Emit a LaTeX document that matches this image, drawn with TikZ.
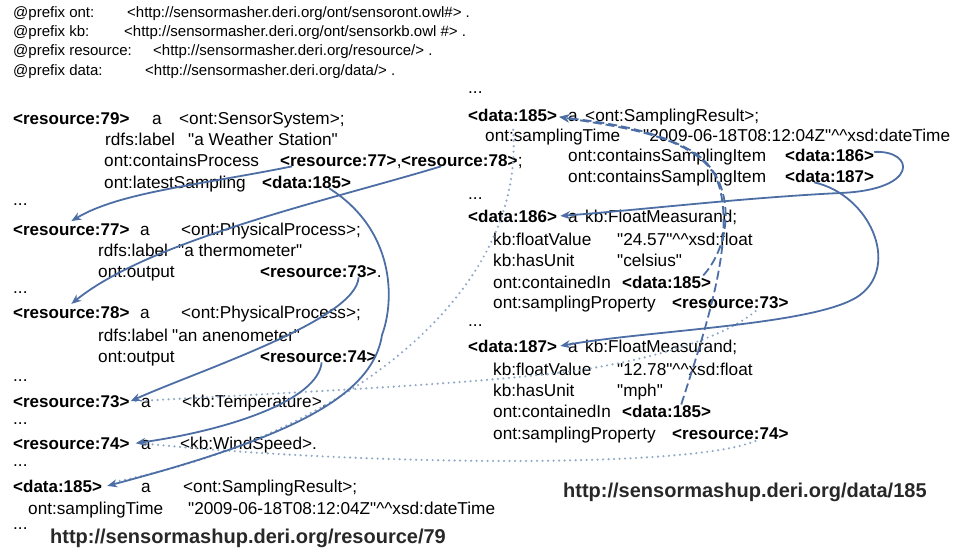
\documentclass[tikz,border=0pt]{standalone}
\usepackage{fontspec}
\setmainfont{Liberation Sans}[Ligatures=TeXOff]
\usetikzlibrary{arrows.meta}
\definecolor{linkblue}{RGB}{76,110,165}
\definecolor{dotblue}{RGB}{145,168,200}
\definecolor{urlgray}{RGB}{40,40,40}
\tikzset{
  txt/.style ={anchor=base west,inner sep=0pt,font=\fontsize{17.2}{20}\selectfont},
  hdr/.style ={txt,font=\fontsize{17}{20}\selectfont\bfseries},
  pfx/.style ={txt,font=\fontsize{15}{18}\selectfont},
  url/.style ={anchor=base west,inner sep=0pt,text=urlgray,
               font=\fontsize{20}{23}\selectfont\bfseries},
  arr/.style ={-{Stealth[length=10pt,width=8pt]},draw=linkblue,line width=1.8pt},
  back/.style={arr,dash pattern=on 9pt off 4pt},
  same/.style={draw=dotblue,line width=2.4pt,line cap=round,dash pattern=on 0pt off 5.5pt}
}
\newcommand{\dtype}{\textasciicircum\textasciicircum}
\begin{document}
\begin{tikzpicture}[x=1pt,y=-1pt]
  \useasboundingbox (0,0) rectangle (971,551);

  % Prefixes
  \node (pfxont)  [pfx] at (13,17.5)  {@prefix ont:};
  \node (uriont)  [pfx] at (127,17.5) {<http://sensormasher.deri.org/ont/sensoront.owl\#> .};
  \node (pfxkb)   [pfx] at (13,36.5)  {@prefix kb:};
  \node (urikb)   [pfx] at (124,36.5) {<http://sensormasher.deri.org/ont/sensorkb.owl \#> .};
  \node (pfxres)  [pfx] at (13,55.5)  {@prefix resource:};
  \node (urires)  [pfx] at (153,55.5) {<http://sensormasher.deri.org/resource/> .};
  \node (pfxdata) [pfx] at (13,75.5)  {@prefix data:};
  \node (uridata) [pfx] at (145,75.5) {<http://sensormasher.deri.org/data/> .};

  % Left: resource/79
  \node (rsc79)   [hdr] at (13,124)  {<resource:79>};
  \node (rsc79a)  [txt] at (152,124) {a};
  \node (rsc79t)  [txt] at (179,124) {<ont:SensorSystem>;};
  \node (rsc79l)  [txt] at (105,145) {rdfs:label};
  \node (rsc79lv) [txt] at (188,145) {"a Weather Station"};
  \node (rsc79p)  [txt] at (104,166) {ont:containsProcess};
  \node (ref77)   [hdr] at (280,166) {<resource:77>};
  \node (cma77)   [txt] at (ref77.base east) {,};
  \node (ref78)   [hdr] at (401,166) {<resource:78>};
  \node (smc78)   [txt] at (ref78.base east) {;};
  \node (rsc79s)  [txt] at (104,188) {ont:latestSampling};
  \node (ref185)  [hdr] at (262,188) {<data:185>};
  \node (gap1)    [txt] at (13,205)  {...};
  \node (rsc77)   [hdr] at (13,235)  {<resource:77>};
  \node (rsc77a)  [txt] at (140,235) {a};
  \node (rsc77t)  [txt] at (181,235) {<ont:PhysicalProcess>;};
  \node (rsc77l)  [txt] at (98,256)  {rdfs:label};
  \node (rsc77lv) [txt] at (178,256) {"a thermometer"};
  \node (rsc77o)  [txt] at (98,277)  {ont:output};
  \node (ref73)   [hdr] at (260,277) {<resource:73>};
  \node (end73)   [txt] at (ref73.base east) {.};
  \node (gap2)    [txt] at (13,293)  {...};
  \node (rsc78)   [hdr] at (13,318)  {<resource:78>};
  \node (rsc78a)  [txt] at (140,318) {a};
  \node (rsc78t)  [txt] at (181,318) {<ont:PhysicalProcess>;};
  \node (rsc78l)  [txt] at (98,341)  {rdfs:label};
  \node (rsc78lv) [txt] at (172,341) {"an anenometer"};
  \node (rsc78o)  [txt] at (98,362)  {ont:output};
  \node (ref74)   [hdr] at (260,362) {<resource:74>};
  \node (end74)   [txt] at (ref74.base east) {.};
  \node (gap3)    [txt] at (13,381)  {...};
  \node (rsc73)   [hdr] at (13,407)  {<resource:73>};
  \node (rsc73a)  [txt] at (141,407) {a};
  \node (rsc73t)  [txt] at (182,407) {<kb:Temperature>.};
  \node (gap4)    [txt] at (13,424)  {...};
  \node (rsc74)   [hdr] at (13,449)  {<resource:74>};
  \node (rsc74a)  [txt] at (141,449) {a};
  \node (rsc74t)  [txt] at (180,449) {<kb:WindSpeed>.};
  \node (gap5)    [txt] at (13,466)  {...};
  \node (dat185)  [hdr] at (13,492)  {<data:185>};
  \node (dat185a) [txt] at (141,492) {a};
  \node (dat185t) [txt] at (183,492) {<ont:SamplingResult>;};
  \node (dat185s) [txt] at (28,514)  {ont:samplingTime};
  \node (dat185v) [txt] at (188,514) {"2009-06-18T08:12:04Z"\dtype xsd:dateTime};
  \node (gap6)    [txt] at (13,529)  {...};
  \node (urlrsc)  [url] at (50,543)  {http://sensormashup.deri.org/resource/79};

  % Right: data/185
  \node (gapr1)   [txt] at (468,93)  {...};
  \node (d185)    [hdr] at (468,121) {<data:185>};
  \node (d185a)   [txt] at (568,121) {a};
  \node (d185t)   [txt] at (585,121) {<ont:SamplingResult>;};
  \node (d185s)   [txt] at (485,141) {ont:samplingTime};
  \node (d185v)   [txt] at (643,141) {"2009-06-18T08:12:04Z"\dtype xsd:dateTime};
  \node (d185i)   [txt] at (568,161) {ont:containsSamplingItem};
  \node (ref186)  [hdr] at (785,161) {<data:186>};
  \node (d185j)   [txt] at (568,182) {ont:containsSamplingItem};
  \node (ref187)  [hdr] at (785,182) {<data:187>};
  \node (gapr2)   [txt] at (468,199) {...};
  \node (d186)    [hdr] at (468,222) {<data:186>};
  \node (d186a)   [txt] at (568,222) {a};
  \node (d186t)   [txt] at (585,222) {kb:FloatMeasurand;};
  \node (d186f)   [txt] at (493,245) {kb:floatValue};
  \node (d186fv)  [txt] at (617,245) {"24.57"\dtype xsd:float};
  \node (d186u)   [txt] at (493,266) {kb:hasUnit};
  \node (d186uv)  [txt] at (617,266) {"celsius"};
  \node (d186c)   [txt] at (493,288) {ont:containedIn};
  \node (ref185a) [hdr] at (622,288) {<data:185>};
  \node (d186p)   [txt] at (493,308) {ont:samplingProperty};
  \node (ref73r)  [hdr] at (672,308) {<resource:73>};
  \node (gapr3)   [txt] at (468,326) {...};
  \node (d187)    [hdr] at (468,352) {<data:187>};
  \node (d187a)   [txt] at (568,352) {a};
  \node (d187t)   [txt] at (585,352) {kb:FloatMeasurand;};
  \node (d187f)   [txt] at (493,375) {kb:floatValue};
  \node (d187fv)  [txt] at (617,375) {"12.78"\dtype xsd:float};
  \node (d187u)   [txt] at (493,396) {kb:hasUnit};
  \node (d187uv)  [txt] at (617,396) {"mph"};
  \node (d187c)   [txt] at (493,417) {ont:containedIn};
  \node (ref185b) [hdr] at (622,417) {<data:185>};
  \node (d187p)   [txt] at (493,439) {ont:samplingProperty};
  \node (ref74r)  [hdr] at (672,439) {<resource:74>};
  \node (urldat)  [url] at (563,497) {http://sensormashup.deri.org/data/185};

  % Same resource links
  \draw [same] ([xshift=6pt]rsc73.east) .. controls (300,392) and (480,384) .. (580,370)
               .. controls (660,358) and (730,335) .. ([xshift=-30pt]ref73r.south east);
  \draw [same] ([xshift=12pt]rsc74.east) .. controls (350,465) and (700,470) .. ([xshift=-30pt]ref74r.south east);
  \draw [same] ([xshift=12pt,yshift=4pt]dat185.east) .. controls (330,440) and (530,300) .. ([yshift=-3pt]d185.south);

  % Arrows, left
  \draw [arr] ([xshift=12pt]ref77.south west) .. controls (200,185) and (120,192) .. ([yshift=2pt]rsc77.north);
  \draw [arr] ([xshift=40pt]ref78.south west) .. controls (330,200) and (150,240) .. ([yshift=2pt]rsc78.north);
  \draw [arr] ([xshift=-18pt]ref73.south east) .. controls (356,320) and (200,370) .. ([xshift=1pt]rsc73.east);
  \draw [arr] ([xshift=-55pt]ref74.south east) .. controls (318,400) and (230,430) .. ([xshift=6pt]rsc74.east);
  \draw [arr] ([xshift=-22pt]ref185.south east) .. controls (395,230) and (395,300) .. (382,335)
              .. controls (372,400) and (280,440) .. ([xshift=5pt]dat185.east);

  % Arrows, right
  \draw [arr] ([yshift=3pt]ref186.east) .. controls (915,150) and (920,190) .. (840,193)
              .. controls (740,198) and (640,210) .. ([xshift=3pt]d186.east);
  \draw [arr] ([xshift=-60pt]ref187.south east) .. controls (870,195) and (900,265) .. (860,295)
              .. controls (820,325) and (650,330) .. ([xshift=3pt]d187.east);
  \draw [back] ([xshift=-8pt]ref185a.north east) .. controls (735,240) and (735,175) .. (690,150)
               .. controls (650,128) and (600,122) .. ([xshift=2pt,yshift=-2pt]d185.east);
  \draw [back] ([xshift=-30pt]ref185b.north east) .. controls (705,330) and (740,230) .. (715,175)
               .. controls (690,135) and (620,127) .. ([xshift=2pt,yshift=-2pt]d185.east);
\end{tikzpicture}
\end{document}
